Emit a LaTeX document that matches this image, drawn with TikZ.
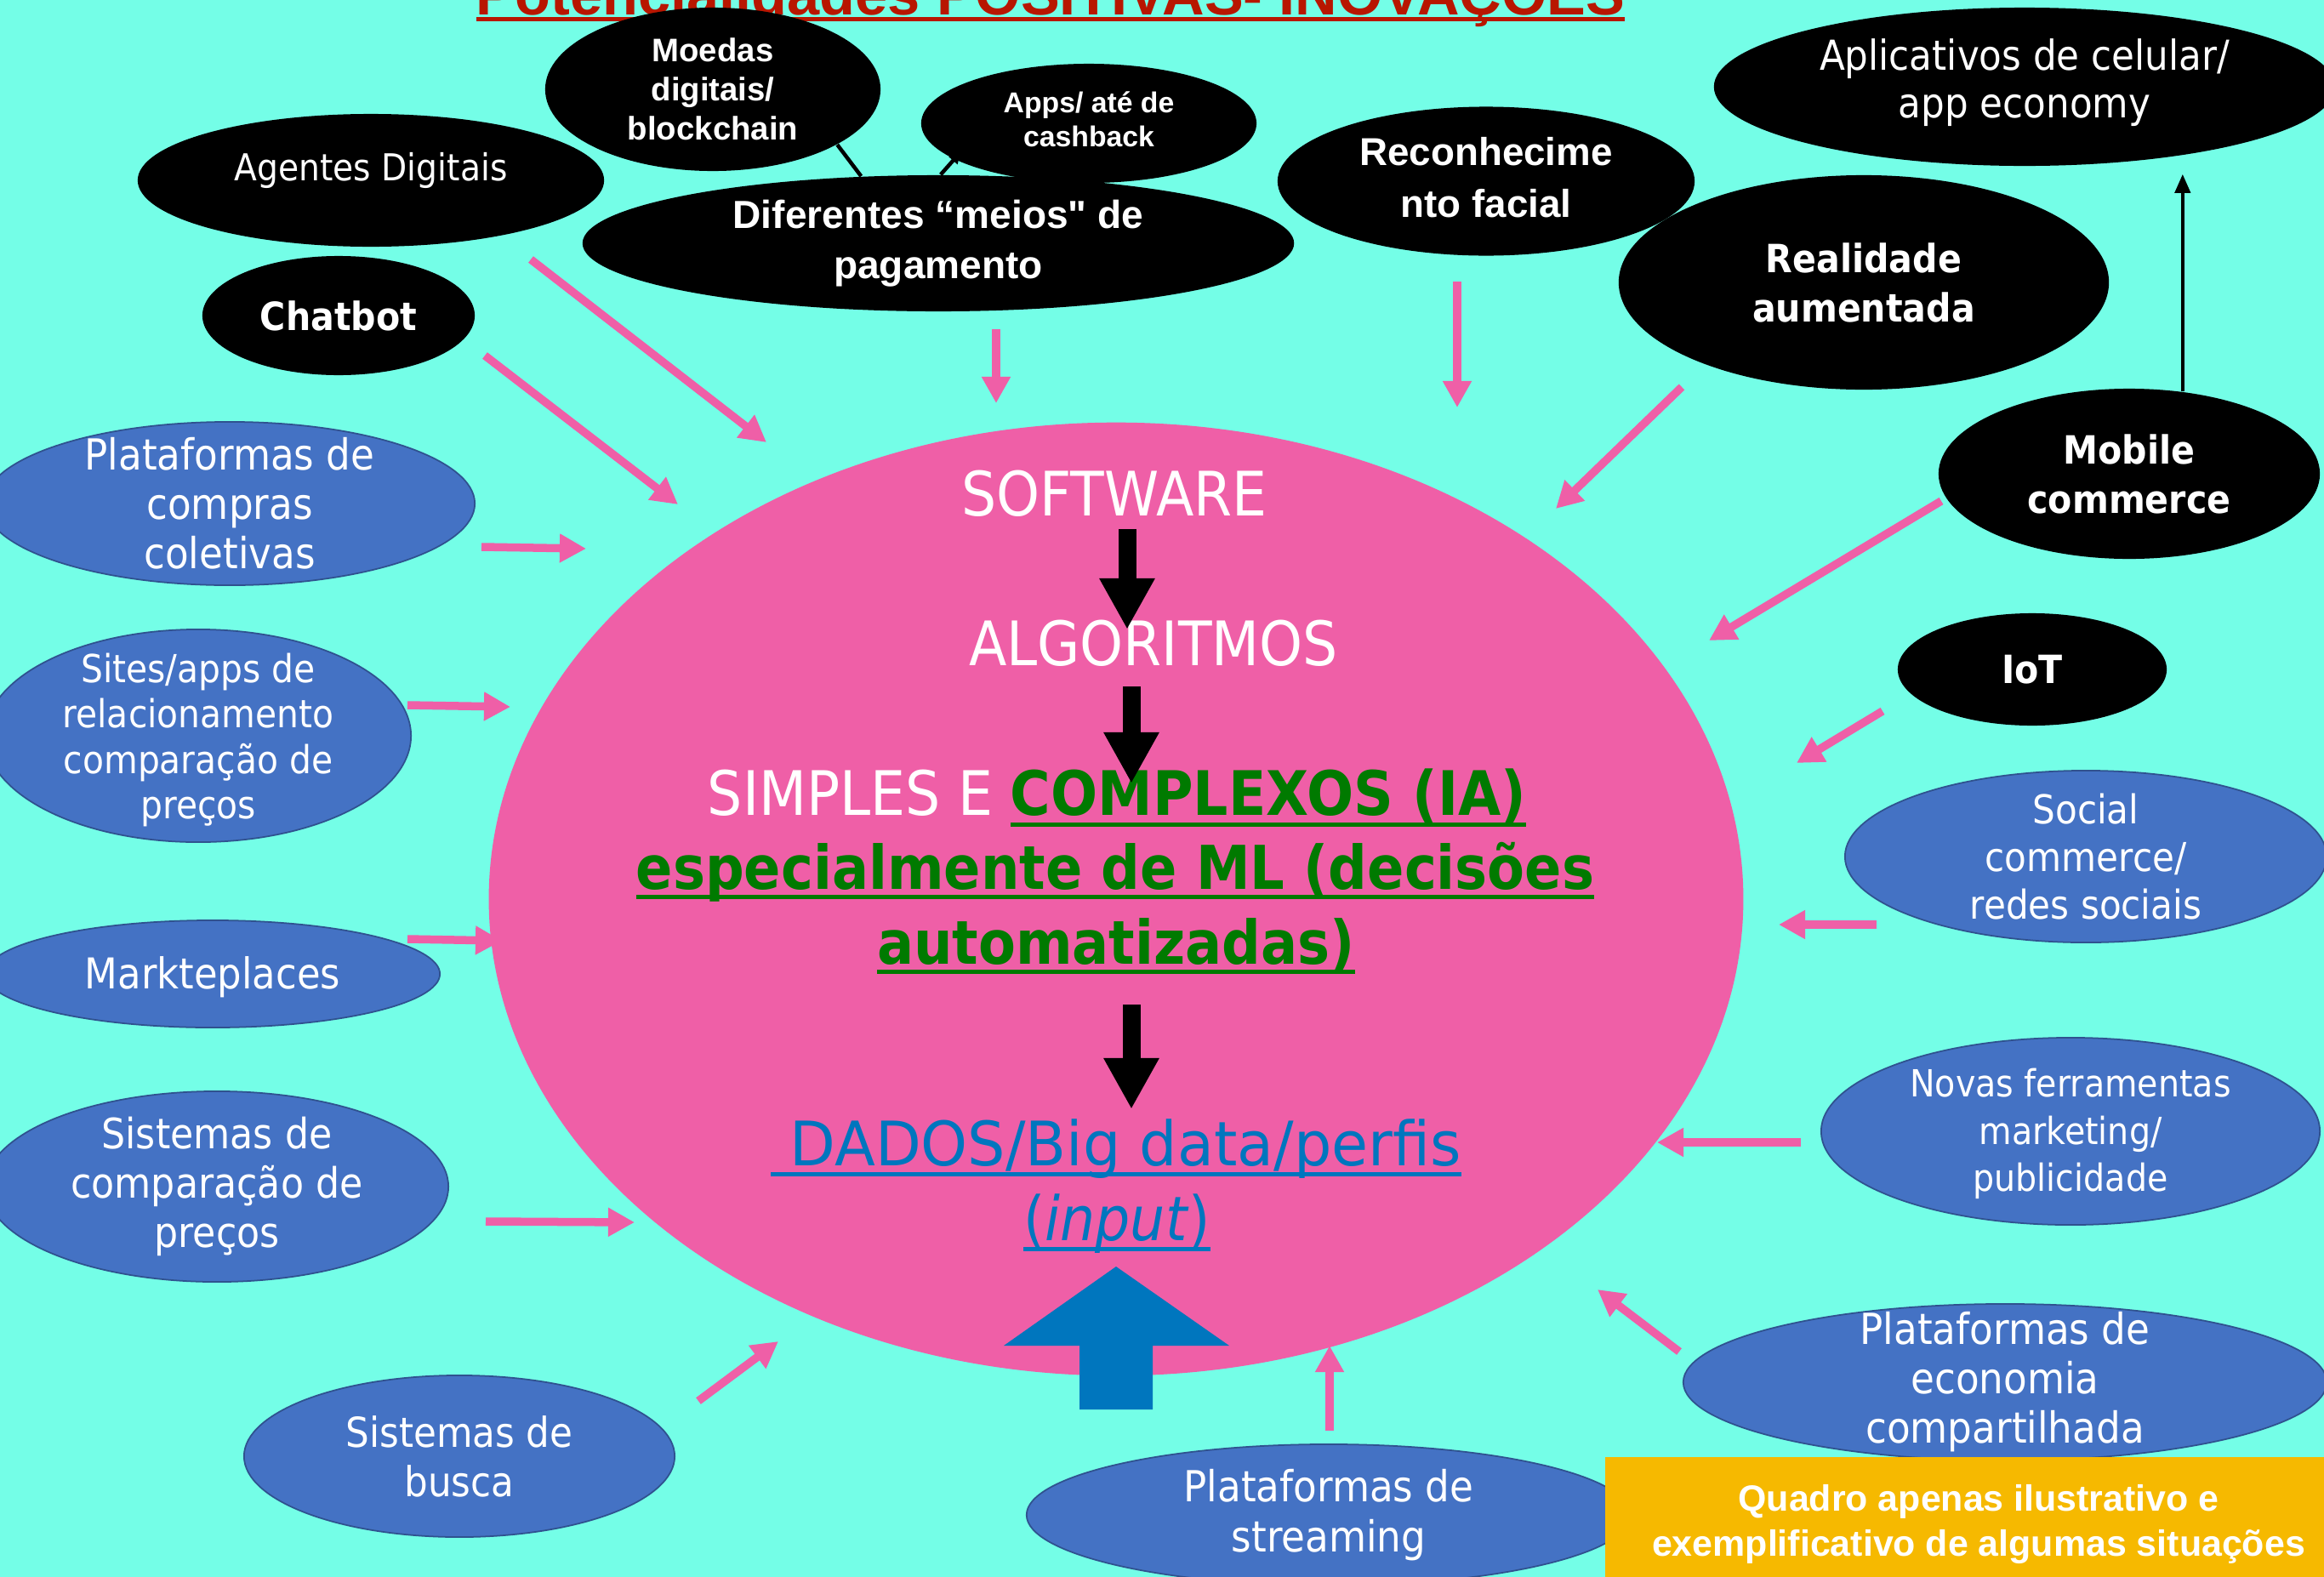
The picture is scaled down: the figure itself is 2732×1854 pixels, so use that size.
\documentclass[tikz,border=0pt]{standalone}
\usepackage{fontspec}
\setmainfont{Liberation Sans}
\newfontfamily\tahoma[FakeStretch=0.9]{DejaVu Sans}
\newfontfamily\tahomalarga[FakeStretch=0.97]{DejaVu Sans}
\usetikzlibrary{shapes.geometric, arrows.meta}

\definecolor{fundo}{RGB}{116,254,231}
\definecolor{rosa}{RGB}{239,95,167}
\definecolor{azulbolha}{RGB}{68,114,196}
\definecolor{azulborda}{RGB}{47,82,143}
\definecolor{azuldados}{RGB}{0,118,190}
\definecolor{verde}{RGB}{0,122,0}
\definecolor{laranja}{RGB}{246,185,0}
\definecolor{titulo}{RGB}{184,22,0}

\newsavebox{\caixasub}
\newcommand{\sublinha}[2][0.13cm]{\sbox{\caixasub}{#2}\rlap{\rule[-#1]{\wd\caixasub}{0.05cm}}\usebox{\caixasub}}

\begin{document}
\begin{tikzpicture}[x=0.01cm, y=-0.01cm,
        preta/.style={ellipse, fill=black, inner sep=0pt},
        azul/.style={ellipse, fill=azulbolha, draw=azulborda, line width=0.5pt, inner sep=0pt},
        texto/.style={text=white, align=center, inner sep=0pt},
        centro/.style={text=white, inner sep=0pt, anchor=base, font=\tahoma\fontsize{20.5}{24}\selectfont},
        rosaseta/.style={draw=rosa, line width=0.095cm, -{Triangle[length=0.31cm, width=0.32cm]}},
        setapreta/.style={draw=black, line width=0.21cm, -{Triangle[length=0.6cm, width=0.61cm]}},
        setafina/.style={draw=black, line width=0.04cm, -{Triangle[length=0.22cm, width=0.18cm]}}]

        \clip (0,0) rectangle (2732,1854);
        \fill[fundo] (0,0) rectangle (2732,1854);

        % Elipse central
        \node[ellipse, fill=rosa, inner sep=0pt, minimum width=14.74cm, minimum height=11.2cm] (nucleo) at (1312,1057) {};

        % Titulo
        \node[text=titulo, anchor=base, inner sep=0pt, font=\fontsize{19.5}{23}\selectfont\bfseries] (titulo) at (1235,17)
            {\sublinha[0.08cm]{Potencialidades POSITIVAS- INOVAÇÕES}};

        % Bolhas pretas
        \node[preta, minimum width=5.48cm, minimum height=1.56cm] (agentes) at (436,212) {};
        \node[texto, font=\tahoma\fontsize{12.4}{15}\selectfont] at ([yshift=0.12cm]agentes.center) {Agentes Digitais};
        \node[preta, minimum width=3.2cm, minimum height=1.4cm] (chatbot) at (398,371) {};
        \node[texto, font=\tahoma\fontsize{13}{15}\selectfont\bfseries] at (chatbot) {Chatbot};
        \node[preta, minimum width=3.94cm, minimum height=1.92cm] (moedas) at (838,105) {};
        \node[texto, font=\fontsize{10.9}{13.1}\selectfont\bfseries] at (moedas) {Moedas\\digitais/\\blockchain};
        \node[preta, minimum width=3.94cm, minimum height=1.4cm] (apps) at (1280,145) {};
        \node[texto, font=\fontsize{9.6}{11.4}\selectfont\bfseries] at ([yshift=0.05cm]apps.center) {Apps/ até de\\cashback};
        \node[preta, minimum width=8.36cm, minimum height=1.6cm] (dif) at (1103,286) {};
        \node[texto, font=\fontsize{13.1}{16.8}\selectfont\bfseries] at (dif) {Diferentes “meios\textquotedbl\ de\\pagamento};
        \node[preta, minimum width=4.9cm, minimum height=1.75cm] (recon) at (1747,213) {};
        \node[texto, font=\fontsize{13}{17.4}\selectfont\bfseries] at ([yshift=0.04cm]recon.center) {Reconhecime\\nto facial};
        \node[preta, minimum width=5.76cm, minimum height=2.52cm] (realidade) at (2191,332) {};
        \node[texto, font=\tahoma\fontsize{13}{16.5}\selectfont\bfseries] at (realidade) {Realidade\\aumentada};
        \node[preta, minimum width=7.3cm, minimum height=1.86cm] (aplic) at (2380,102) {};
        \node[texto, font=\tahoma\fontsize{13.8}{16}\selectfont] at ([yshift=0.05cm]aplic.center) {Aplicativos de celular/\\app economy};
        \node[preta, minimum width=4.48cm, minimum height=2cm] (mobile) at (2503,557) {};
        \node[texto, font=\tahoma\fontsize{13}{16.5}\selectfont\bfseries] at (mobile) {Mobile\\commerce};
        \node[preta, minimum width=3.16cm, minimum height=1.32cm] (iot) at (2389,787) {};
        \node[texto, font=\tahoma\fontsize{13}{15}\selectfont\bfseries] at (iot) {IoT};

        % Bolhas azuis
        \node[azul, minimum width=5.76cm, minimum height=1.92cm] (compras) at (270,592) {};
        \node[texto, font=\tahoma\fontsize{14.3}{16.5}\selectfont] at (compras) {Plataformas de\\compras\\coletivas};
        \node[azul, minimum width=5cm, minimum height=2.5cm] (sites) at (233,865) {};
        \node[texto, font=\tahoma\fontsize{12.9}{15.1}\selectfont] at ([yshift=-0.05cm]sites.center) {Sites/apps de\\relacionamento\\comparação de\\preços};
        \node[azul, minimum width=5.34cm, minimum height=1.26cm] (markt) at (250,1145) {};
        \node[texto, font=\tahoma\fontsize{14.2}{16.5}\selectfont] at ([yshift=-0.04cm]markt.center) {Markteplaces};
        \node[azul, minimum width=5.44cm, minimum height=2.24cm] (sistcomp) at (255,1395) {};
        \node[texto, font=\tahoma\fontsize{14}{16.5}\selectfont] at (sistcomp) {Sistemas de\\comparação de\\preços};
        \node[azul, minimum width=5.06cm, minimum height=1.9cm] (busca) at (540,1712) {};
        \node[texto, font=\tahoma\fontsize{13.8}{16.5}\selectfont] at (busca) {Sistemas de\\busca};
        \node[azul, minimum width=7.1cm, minimum height=1.66cm] (streaming) at (1562,1781) {};
        \node[texto, font=\tahoma\fontsize{14.3}{16.8}\selectfont] at (streaming) {Plataformas de\\streaming};
        \node[azul, minimum width=7.56cm, minimum height=1.84cm] (economia) at (2357,1625) {};
        \node[texto, font=\tahoma\fontsize{14.3}{16.5}\selectfont] at (economia) {Plataformas de\\economia\\compartilhada};
        \node[azul, minimum width=5.66cm, minimum height=2.02cm] (social) at (2452,1007) {};
        \node[texto, font=\tahoma\fontsize{13.3}{15.8}\selectfont] at (social) {Social\\commerce/\\redes sociais};
        \node[azul, minimum width=5.86cm, minimum height=2.2cm] (novas) at (2434,1330) {};
        \node[texto, font=\tahoma\fontsize{12.5}{15.8}\selectfont] at ([yshift=-0.03cm]novas.center) {Novas ferramentas\\marketing/\\publicidade};

        % Quadro
        \node[rectangle, fill=laranja, text=white, align=center, inner sep=0pt, minimum width=8.78cm, minimum height=1.58cm,
            font=\fontsize{12.2}{14.8}\selectfont\bfseries] (quadro) at (2326,1792)
            {Quadro apenas ilustrativo e\\exemplificativo de algumas situações};

        % Texto central
        \node[centro] (sw) at (1310,606) {SOFTWARE};
        \node[centro] (alg) at (1356,782) {ALGORITMOS};
        \node[centro] (l1) at (1313,958) {SIMPLES E \textcolor{verde}{\bfseries\sublinha[0.14cm]{COMPLEXOS (IA)}}};
        \node[centro, text=verde, font=\tahoma\fontsize{20.2}{24}\selectfont\bfseries] (l2) at (1311,1045) {\sublinha[0.12cm]{especialmente de ML (decisões}};
        \node[centro, text=verde, font=\tahoma\fontsize{20.2}{24}\selectfont\bfseries] (l3) at (1312,1133) {\sublinha[0.12cm]{automatizadas)}};
        \node[centro, text=azuldados, font=\tahomalarga\fontsize{20.5}{24}\selectfont] (dados) at (1312,1370) {\sublinha[0.13cm]{\ DADOS/Big data/perfis}};
        \node[centro, text=azuldados] (input) at (1313,1458) {\sublinha[0.13cm]{(\textit{input})}};

        % Setas pretas
        \draw[setapreta] (sw.base) ++(15,16) -- ++(0,118);
        \draw[setapreta] (alg.base) ++(-26,25) -- ++(0,114);
        \draw[setapreta] (l3.base) ++(18,48) -- ++(0,123);

        % Seta azul
        \fill[azuldados] (1312,1489) -- (1445,1582) -- (1355,1582) -- (1355,1657)
            -- (1269,1657) -- (1269,1582) -- (1180,1582) -- cycle;

        % Setas rosa
        \foreach \nome/\ini/\fim in {agentes/{624,305}/{901,520}, chatbot/{570,418}/{797,593},
                compras/{566,643}/{689,645}, sites/{479,829}/{600,831}, markt/{479,1104}/{590,1106},
                sistcomp/{571,1436}/{746,1437}, busca/{821,1647}/{915,1577}, streaming/{1563,1682}/{1563,1582},
                economia/{1974,1589}/{1878,1516}, novas/{2117,1343}/{1948,1343}, social/{2206,1087}/{2091,1087},
                iot/{2213,836}/{2112,897}, mobile/{2282,589}/{2009,753}, realidade/{1977,455}/{1829,598},
                recon/{1713,331}/{1713,479}, dif/{1171,387}/{1171,474}}{
            \coordinate (\nome-ini) at (\ini);
            \coordinate (\nome-fim) at (\fim);
            \draw[rosaseta] (\nome-ini) -- (\nome-fim);
        }

        % Ligacoes finas
        \draw[setafina, shorten >=0.09cm] (mobile.57) -- (mobile.57 |- aplic.south);
        \draw[line width=0.045cm] (moedas.-24) -- (dif.139);
        \coordinate (apps-ponta) at (1129,179);
        \draw[line width=0.045cm, -{Triangle[length=0.13cm, width=0.13cm]}] (dif.88) -- (apps-ponta);
    \end{tikzpicture}
\end{document}
